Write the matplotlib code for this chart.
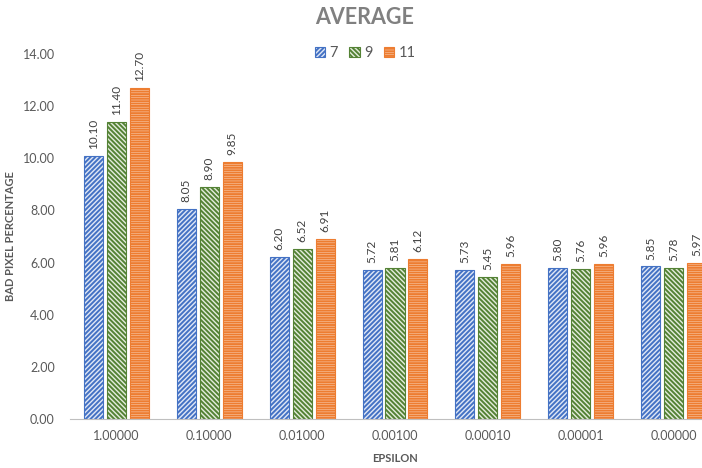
import matplotlib.pyplot as plt
import numpy as np

plt.rcParams['font.family'] = ['Lato', 'DejaVu Sans']
plt.rcParams['hatch.linewidth'] = 1.4

epsilon = ['1.00000', '0.10000', '0.01000', '0.00100', '0.00010', '0.00001', '0.00000']
series_names = ['7', '9', '11']
vals_7 = [10.10, 8.05, 6.20, 5.72, 5.73, 5.80, 5.85]
vals_9 = [11.40, 8.90, 6.52, 5.81, 5.45, 5.76, 5.78]
vals_11 = [12.70, 9.85, 6.91, 6.12, 5.96, 5.96, 5.97]

colors = ['#4472C4', '#548235', '#ED7D31']
hatches = ['///////', '\\\\\\\\\\\\\\', '-------']
faces = ['#dfe7f6', '#e3ecdc', '#fbe0cf']

fig = plt.figure(figsize=(7.02, 4.68), dpi=100)
ax = fig.add_axes([0.0997, 0.1047, 0.926, 0.78])

x = np.arange(len(epsilon))
width = 0.205
step = 0.247
for i, (name, vals) in enumerate(zip(series_names, [vals_7, vals_9, vals_11])):
    pos = x + (i - 1) * step
    bars = ax.bar(pos, vals, width, facecolor=faces[i], edgecolor=colors[i],
                  hatch=hatches[i], linewidth=0.8, label=name)
    for b, v in zip(bars, vals):
        ax.annotate('%.2f' % v, (b.get_x() + b.get_width() / 2, v),
                    xytext=(0, 5), textcoords='offset points',
                    rotation=90, ha='center', va='bottom',
                    fontsize=8.5, color='#404040')

ax.set_xlim(-0.5, len(epsilon) - 0.5)
ax.set_ylim(0, 14)
ax.set_yticks(np.arange(0, 15, 2))
ax.set_yticklabels(['%.2f' % t for t in np.arange(0, 15, 2)])
ax.set_xticks(x)
ax.set_xticklabels(epsilon)
ax.tick_params(length=0, labelsize=9, labelcolor='#595959')
ax.tick_params(axis='x', pad=8)
ax.tick_params(axis='y', pad=11)
for s in ['top', 'right', 'left']:
    ax.spines[s].set_visible(False)
ax.spines['bottom'].set_color('#bfbfbf')

ax.set_xlabel('EPSILON', fontsize=8, fontweight='bold', color='#595959', labelpad=8)
ax.set_ylabel('BAD PIXEL PERCENTAGE', fontsize=8, fontweight='bold', color='#595959', labelpad=5)

fig.text(0.52, 0.985, 'AVERAGE', ha='center', va='top', fontsize=15.5,
         fontweight='bold', color='#808080')
fig.legend(loc='upper center', bbox_to_anchor=(0.52, 0.93), ncol=3, frameon=False,
           fontsize=10.5, handlelength=0.7, handleheight=0.7, handletextpad=0.3,
           columnspacing=0.8, labelcolor='#595959')

fig.savefig('out.png', dpi=100)
